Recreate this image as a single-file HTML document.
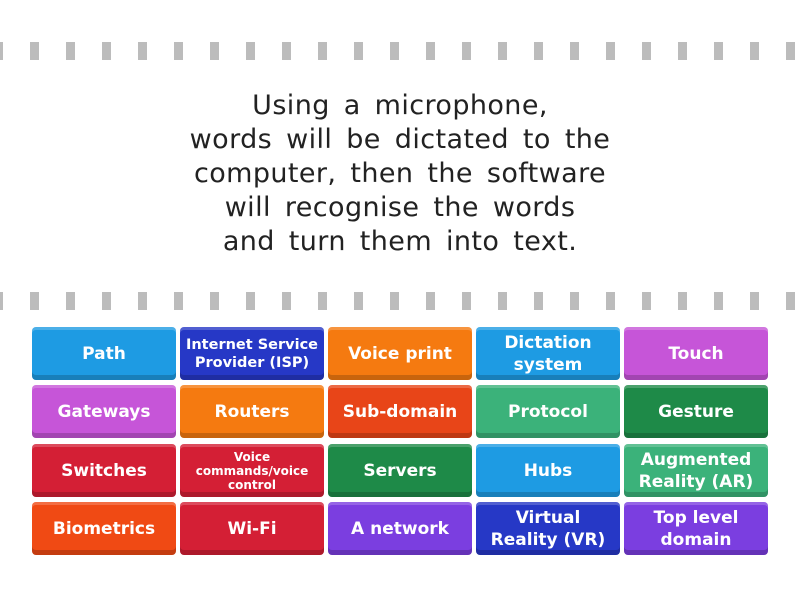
<!DOCTYPE html>
<html><head><meta charset="utf-8"><style>
body{margin:0;width:800px;height:600px;background:#fff;position:relative;overflow:hidden;font-family:"DejaVu Sans","Liberation Sans",sans-serif}
.d{position:absolute;width:9px;height:18px;background:#bcbcbc}
.q{position:absolute;left:50px;width:700px;top:89px;text-align:center;font-size:27px;line-height:34px;color:#222;word-spacing:5px;letter-spacing:0.4px}
.t{position:absolute;width:144px;height:53px;border-radius:4px;color:#fff;font-weight:bold;font-size:17px;line-height:22px;display:flex;align-items:center;justify-content:center;text-align:center;box-sizing:border-box;box-shadow:inset 0 -5px 0 rgba(0,0,0,0.18),inset 0 3px 0 rgba(255,255,255,0.2);padding:0 2px;white-space:nowrap}
.s{font-size:14.5px;line-height:18px}
.x{font-size:12px;line-height:14px}
</style></head><body>
<div id="d1"></div>
<div class="q">Using a microphone,<br>words will be dictated to the<br>computer, then the software<br>will recognise the words<br>and turn them into text.</div>
<div class="t" style="left:32px;top:327px;background:#1e9be3">Path</div>
<div class="t s" style="left:180px;top:327px;background:#2638c6">Internet Service<br>Provider (ISP)</div>
<div class="t" style="left:328px;top:327px;background:#f57a10">Voice print</div>
<div class="t" style="left:476px;top:327px;background:#1e9be3">Dictation<br>system</div>
<div class="t" style="left:624px;top:327px;background:#c655d8">Touch</div>
<div class="t" style="left:32px;top:385px;background:#c655d8">Gateways</div>
<div class="t" style="left:180px;top:385px;background:#f57a10">Routers</div>
<div class="t" style="left:328px;top:385px;background:#e84518">Sub-domain</div>
<div class="t" style="left:476px;top:385px;background:#3bb27a">Protocol</div>
<div class="t" style="left:624px;top:385px;background:#1e8a48">Gesture</div>
<div class="t" style="left:32px;top:444px;background:#d41f35">Switches</div>
<div class="t x" style="left:180px;top:444px;background:#d41f35">Voice<br>commands/voice<br>control</div>
<div class="t" style="left:328px;top:444px;background:#1e8a48">Servers</div>
<div class="t" style="left:476px;top:444px;background:#1e9be3">Hubs</div>
<div class="t" style="left:624px;top:444px;background:#3bb27a">Augmented<br>Reality (AR)</div>
<div class="t" style="left:32px;top:502px;background:#f04a14">Biometrics</div>
<div class="t" style="left:180px;top:502px;background:#d41f35">Wi-Fi</div>
<div class="t" style="left:328px;top:502px;background:#7b3ee0">A network</div>
<div class="t" style="left:476px;top:502px;background:#2638c6">Virtual<br>Reality (VR)</div>
<div class="t" style="left:624px;top:502px;background:#7b3ee0">Top level<br>domain</div>
<script>
var h='';for(var i=0;i<23;i++){var x=-6+36*i;h+='<div class="d" style="left:'+x+'px;top:42px"></div><div class="d" style="left:'+x+'px;top:292px"></div>';}
document.getElementById('d1').innerHTML=h;
</script>
</body></html>
